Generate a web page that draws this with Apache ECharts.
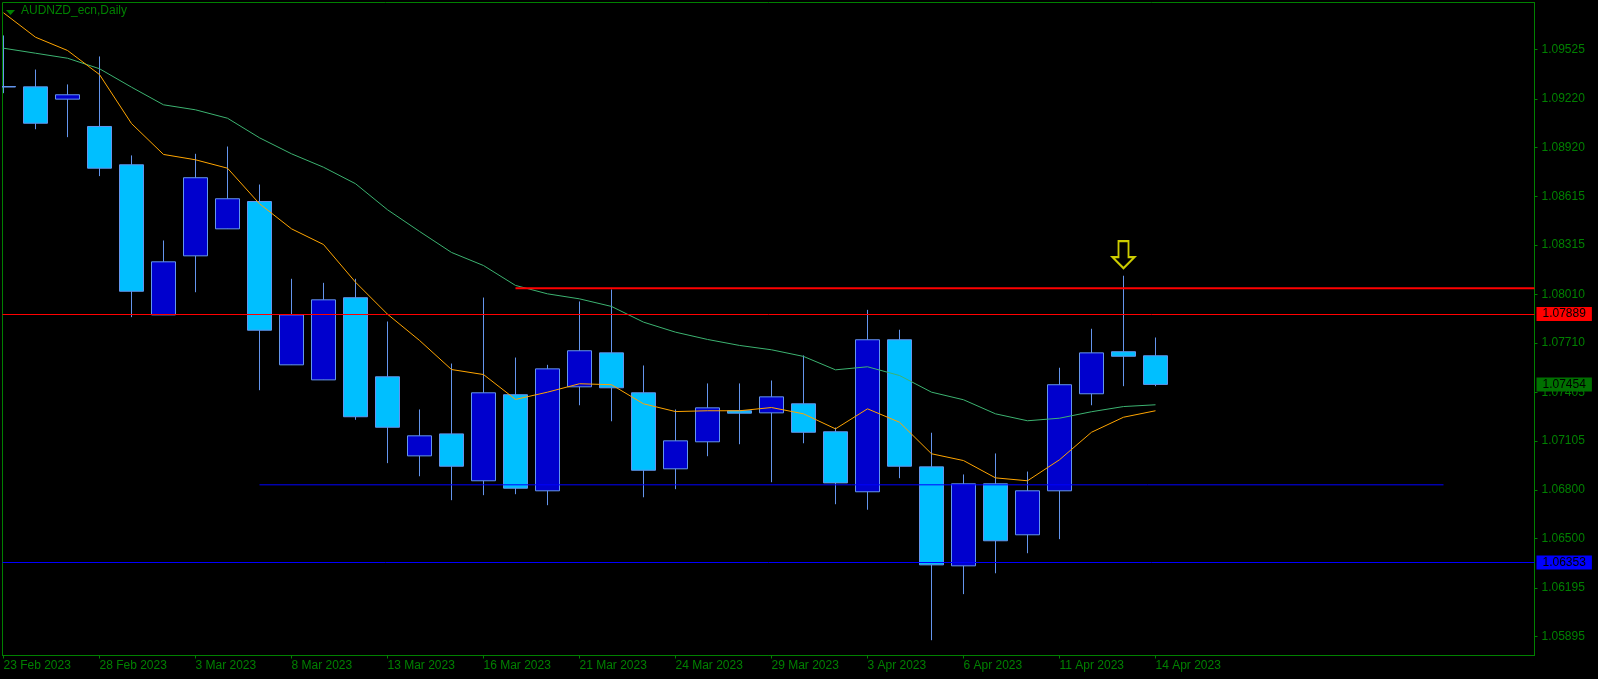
<!DOCTYPE html>
<html>
<head>
<meta charset="utf-8">
<style>
  html, body { margin: 0; padding: 0; background: #000; }
  #chart { width: 1598px; height: 679px; }
</style>
<script src="https://cdn.jsdelivr.net/npm/echarts@6/dist/echarts.min.js"></script>
</head>
<body>
<div id="chart"></div>
<script>
// ---------- data ----------
const dates = ['23 Feb 2023','24 Feb 2023','27 Feb 2023','28 Feb 2023','1 Mar 2023','2 Mar 2023','3 Mar 2023','6 Mar 2023','7 Mar 2023','8 Mar 2023','9 Mar 2023','10 Mar 2023','13 Mar 2023','14 Mar 2023','15 Mar 2023','16 Mar 2023','17 Mar 2023','20 Mar 2023','21 Mar 2023','22 Mar 2023','23 Mar 2023','24 Mar 2023','27 Mar 2023','28 Mar 2023','29 Mar 2023','30 Mar 2023','31 Mar 2023','3 Apr 2023','4 Apr 2023','5 Apr 2023','6 Apr 2023','7 Apr 2023','10 Apr 2023','11 Apr 2023','12 Apr 2023','13 Apr 2023','14 Apr 2023'];
const openP  = [1.09296,1.09294,1.09218,1.09049,1.08812,1.07884,1.08249,1.08416,1.08585,1.07575,1.07482,1.07990,1.07501,1.07012,1.07148,1.06858,1.07390,1.06796,1.07439,1.07649,1.07402,1.06932,1.07099,1.07291,1.07278,1.07334,1.07161,1.06790,1.07730,1.06944,1.06332,1.06839,1.06524,1.06796,1.07396,1.07656,1.07631];
const highP  = [1.09612,1.09401,1.09309,1.09482,1.08870,1.08344,1.08880,1.08925,1.08690,1.08107,1.08082,1.08107,1.07843,1.07299,1.07583,1.07991,1.07620,1.07575,1.07967,1.08041,1.07571,1.07299,1.07460,1.07460,1.07478,1.07633,1.07187,1.07915,1.07792,1.07155,1.06897,1.07027,1.06915,1.07557,1.07798,1.08126,1.07744];
const lowP   = [1.09255,1.09032,1.08983,1.08742,1.07870,1.07883,1.08024,1.08415,1.07418,1.07574,1.07481,1.07235,1.06967,1.06886,1.06738,1.06769,1.06775,1.06707,1.07325,1.07226,1.06756,1.06806,1.07010,1.07084,1.06849,1.07090,1.06713,1.06679,1.06874,1.05872,1.06157,1.06286,1.06410,1.06497,1.07325,1.07443,1.07443];
const closeP = [1.09293,1.09069,1.09245,1.08791,1.08030,1.08212,1.08732,1.08602,1.07789,1.07884,1.07977,1.07254,1.07189,1.07136,1.06948,1.07402,1.06812,1.07550,1.07662,1.07433,1.06923,1.07105,1.07309,1.07276,1.07377,1.07158,1.06845,1.07730,1.06948,1.06338,1.06839,1.06487,1.06796,1.07452,1.07649,1.07628,1.07454];
const maFast = [1.09752,1.09601,1.09519,1.09370,1.09067,1.08876,1.08843,1.08791,1.08571,1.08416,1.08319,1.08086,1.07888,1.07726,1.07546,1.07515,1.07361,1.07406,1.07458,1.07452,1.07334,1.07286,1.07291,1.07291,1.07311,1.07272,1.07179,1.07303,1.07220,1.07025,1.06983,1.06876,1.06858,1.06988,1.07158,1.07251,1.07291];
const maSlow = [1.09533,1.09502,1.09471,1.09406,1.09292,1.09183,1.09152,1.09100,1.08979,1.08880,1.08797,1.08695,1.08534,1.08400,1.08270,1.08189,1.08066,1.08014,1.07983,1.07936,1.07839,1.07777,1.07732,1.07695,1.07668,1.07627,1.07544,1.07563,1.07509,1.07406,1.07359,1.07272,1.07229,1.07245,1.07285,1.07317,1.07328];
const xTickIdx = [0,3,6,9,12,15,18,21,24,27,30,33,36];
const yTicks = [1.05895,1.06195,1.06500,1.06800,1.07105,1.07405,1.07710,1.08010,1.08315,1.08615,1.08920,1.09220,1.09525];
const redLevel = 1.07889;
const bidLevel = 1.07454;
const blueLevel = 1.06353;
const resistLevel = 1.08049, resistFrom = 16;
const supportLevel = 1.06833, supportFrom = 8, supportTo = 45;
const arrowIdx = 35;
const title = 'AUDNZD_ecn,Daily';

// ---------- view ----------
const xMin = -0.03125, xMax = 47.84375;
const yMin = 1.057775, yMax = 1.0981564;
const GREEN = '#008000';
const FONT = "'Liberation Sans', Arial, sans-serif";

const candles = dates.map((d, i) => [i, openP[i], closeP[i], lowP[i], highP[i]]);
const ln = arr => arr.map((v, i) => [i, v]);

const chart = echarts.init(document.getElementById('chart'), null, { renderer: 'canvas' });
chart.setOption({
  backgroundColor: '#000',
  animation: false,
  graphic: [
    // mask left of the plot frame (candlestick marks are not clipped partially)
    { type: 'rect', left: 0, top: 0, shape: { width: 2, height: 679 }, style: { fill: '#000' }, z: 20 },
    { type: 'polygon', shape: { points: [[6, 10], [15, 10], [10.5, 15]] }, style: { fill: GREEN }, z: 10 },
    { type: 'text', left: 21, top: 5, style: { text: title, fill: GREEN, font: "12px 'Liberation Sans', Arial, sans-serif" }, z: 10 }
  ],
  grid: { left: 2.5, top: 2.5, right: 63.5, bottom: 23.5, show: true, borderColor: GREEN, borderWidth: 1, backgroundColor: '#000' },
  xAxis: {
    type: 'value', min: xMin, max: xMax,
    splitLine: { show: false },
    axisLine: { show: true, onZero: false, lineStyle: { color: GREEN, width: 1 } },
    axisTick: { show: true, length: 3, lineStyle: { color: GREEN }, customValues: xTickIdx },
    axisLabel: {
      customValues: xTickIdx, color: GREEN, fontSize: 12, fontFamily: FONT, align: 'left', margin: 4,
      formatter: v => dates[Math.round(v)] || ''
    }
  },
  yAxis: {
    type: 'value', position: 'right', min: yMin, max: yMax,
    splitLine: { show: false },
    axisLine: { show: true, onZero: false, lineStyle: { color: GREEN, width: 1 } },
    axisTick: { show: true, length: 3, lineStyle: { color: GREEN }, customValues: yTicks },
    axisLabel: { customValues: yTicks, color: GREEN, fontSize: 12, fontFamily: FONT, margin: 7, formatter: v => v.toFixed(5) }
  },
  series: [
    {
      type: 'candlestick', data: candles, barWidth: 24, z: 2, clip: true,
      itemStyle: { color: '#0000CD', color0: '#00BFFF', borderColor: '#6495ED', borderColor0: '#6495ED', borderColorDoji: '#6495ED', borderWidth: 1 }
    },
    { type: 'line', data: ln(maSlow), symbol: 'none', z: 3, lineStyle: { color: '#3CB371', width: 1 } },
    { type: 'line', data: ln(maFast), symbol: 'none', z: 3, lineStyle: { color: '#FFA500', width: 1 } },
    { type: 'line', data: [[resistFrom, resistLevel], [xMax, resistLevel]], symbol: 'none', z: 4, lineStyle: { color: '#FF0000', width: 2 } },
    { type: 'line', data: [[supportFrom, supportLevel], [supportTo, supportLevel]], symbol: 'none', z: 4, lineStyle: { color: '#0000FF', width: 1 } },
    {
      type: 'scatter', data: [[arrowIdx, highP[arrowIdx]]], z: 5,
      symbol: 'path://M6,0 L16,0 L16,16 L22,16 L11,27 L0,16 L6,16 Z',
      symbolSize: [22, 27], symbolOffset: [0, -21],
      itemStyle: { color: 'rgba(0,0,0,0)', borderColor: '#FFFF00', borderWidth: 2 }
    },
    {
      type: 'line', data: [], clip: false, z: 6,
      markLine: {
        silent: true, symbol: ['none', 'none'], animation: false, precision: 5,
        data: [
          { yAxis: redLevel, lineStyle: { color: '#FF0000', width: 1, type: 'solid' },
            label: { backgroundColor: '#FF0000' } },
          { yAxis: bidLevel, lineStyle: { color: 'rgba(0,0,0,0)', width: 1, type: 'solid' },
            label: { backgroundColor: '#007000' } },
          { yAxis: blueLevel, lineStyle: { color: '#0000FF', width: 1, type: 'solid' },
            label: { backgroundColor: '#0000FF' } }
        ],
        label: {
          show: true, position: 'end', distance: 2, color: '#000', fontSize: 12, fontFamily: FONT,
          padding: [1, 6, 1, 6], lineHeight: 12, formatter: p => Number(p.value).toFixed(5)
        }
      }
    }
  ]
});
</script>
</body>
</html>
